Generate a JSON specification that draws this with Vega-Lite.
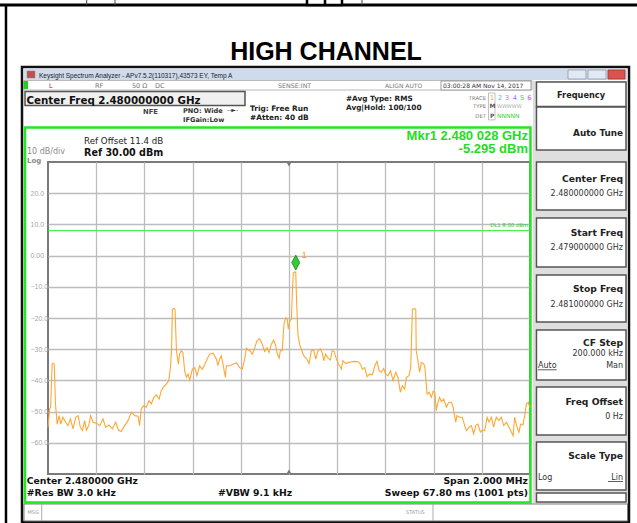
{
  "$schema": "https://vega.github.io/schema/vega-lite/v6.json",
  "width": 482,
  "height": 312,
  "autosize": {"type": "none"},
  "padding": {"left": 48, "top": 162, "right": 107, "bottom": 49},
  "background": "white",
  "datasets": {
    "trace": [
      {"f":-1000,"p":-55},{"f":-993,"p":-49.1},{"f":-989,"p":-48.6},{"f":-983,"p":-34.8},{"f":-979,"p":-34.5},{"f":-974,"p":-34.8},{"f":-969,"p":-47.5},{"f":-962,"p":-54},{"f":-954,"p":-51.3},{"f":-947,"p":-54},{"f":-938,"p":-51.8},{"f":-927,"p":-53.4},{"f":-917,"p":-54.5},{"f":-907,"p":-52.3},{"f":-896,"p":-55.5},{"f":-885,"p":-51.8},{"f":-875,"p":-51.3},{"f":-866,"p":-55},{"f":-857,"p":-56},{"f":-848,"p":-52.9},{"f":-841,"p":-55.9},{"f":-831,"p":-54.5},{"f":-823,"p":-51.3},{"f":-813,"p":-53.4},{"f":-799,"p":-53.7},{"f":-785,"p":-54.5},{"f":-772,"p":-52.3},{"f":-761,"p":-55},{"f":-747,"p":-54.3},{"f":-733,"p":-55.5},{"f":-719,"p":-53.4},{"f":-708,"p":-55.9},{"f":-696,"p":-56.4},{"f":-682,"p":-54.5},{"f":-668,"p":-52.9},{"f":-654,"p":-50.2},{"f":-640,"p":-51.3},{"f":-626,"p":-51.5},{"f":-620,"p":-54.5},{"f":-613,"p":-49.1},{"f":-603,"p":-48.1},{"f":-592,"p":-48.6},{"f":-581,"p":-46.5},{"f":-571,"p":-47.5},{"f":-561,"p":-45.4},{"f":-550,"p":-44.6},{"f":-539,"p":-46},{"f":-530,"p":-43.3},{"f":-520,"p":-42},{"f":-509,"p":-41.2},{"f":-499,"p":-40.1},{"f":-492,"p":-35.9},{"f":-487,"p":-29.5},{"f":-484,"p":-17.2},{"f":-478,"p":-16.9},{"f":-473,"p":-17.2},{"f":-467,"p":-30.5},{"f":-459,"p":-34.8},{"f":-454,"p":-31.6},{"f":-447,"p":-30.5},{"f":-440,"p":-31.1},{"f":-433,"p":-36.9},{"f":-426,"p":-39},{"f":-419,"p":-38},{"f":-412,"p":-39.9},{"f":-401,"p":-36.4},{"f":-391,"p":-35.9},{"f":-382,"p":-38.5},{"f":-371,"p":-35.3},{"f":-360,"p":-36.4},{"f":-350,"p":-35},{"f":-340,"p":-33.2},{"f":-329,"p":-31.6},{"f":-315,"p":-31.3},{"f":-301,"p":-33.2},{"f":-295,"p":-35.3},{"f":-288,"p":-33.2},{"f":-281,"p":-32.1},{"f":-274,"p":-34.8},{"f":-264,"p":-39},{"f":-260,"p":-35.3},{"f":-246,"p":-35.3},{"f":-232,"p":-34.8},{"f":-218,"p":-34.3},{"f":-205,"p":-35.9},{"f":-194,"p":-36.4},{"f":-184,"p":-33.2},{"f":-177,"p":-29.7},{"f":-163,"p":-30.5},{"f":-152,"p":-31.6},{"f":-142,"p":-29.5},{"f":-133,"p":-27.3},{"f":-122,"p":-26.6},{"f":-111,"p":-28.4},{"f":-101,"p":-30.7},{"f":-91,"p":-29.5},{"f":-83,"p":-31.1},{"f":-73,"p":-28.4},{"f":-64,"p":-27.1},{"f":-55,"p":-28.9},{"f":-50,"p":-31.1},{"f":-41,"p":-32.9},{"f":-36,"p":-30.5},{"f":-28,"p":-30.5},{"f":-21,"p":-22},{"f":-14,"p":-19.9},{"f":-7,"p":-20.4},{"f":-3,"p":-23.6},{"f":3,"p":-21},{"f":10,"p":-20.4},{"f":14,"p":-11.4},{"f":18,"p":-5.6},{"f":23,"p":-5.3},{"f":28,"p":-5.295},{"f":31,"p":-13.5},{"f":37,"p":-25.2},{"f":44,"p":-28.4},{"f":51,"p":-30},{"f":61,"p":-32.1},{"f":72,"p":-32.9},{"f":83,"p":-34.6},{"f":93,"p":-30.5},{"f":102,"p":-30.2},{"f":111,"p":-33.2},{"f":120,"p":-30.5},{"f":130,"p":-29.9},{"f":138,"p":-31.1},{"f":144,"p":-33.7},{"f":152,"p":-31.6},{"f":162,"p":-32.9},{"f":172,"p":-33.5},{"f":179,"p":-30.5},{"f":187,"p":-30.7},{"f":197,"p":-33.2},{"f":208,"p":-35.1},{"f":217,"p":-36.4},{"f":224,"p":-33.7},{"f":235,"p":-34.6},{"f":245,"p":-34.3},{"f":259,"p":-34},{"f":273,"p":-33.9},{"f":286,"p":-34},{"f":296,"p":-34.8},{"f":304,"p":-36.4},{"f":314,"p":-35.9},{"f":324,"p":-38.8},{"f":335,"p":-38},{"f":346,"p":-38.2},{"f":356,"p":-35.3},{"f":365,"p":-33.9},{"f":374,"p":-36.9},{"f":383,"p":-37.4},{"f":393,"p":-36.2},{"f":401,"p":-38},{"f":411,"p":-38.5},{"f":421,"p":-36.9},{"f":432,"p":-40.1},{"f":443,"p":-37.4},{"f":452,"p":-39},{"f":462,"p":-43.8},{"f":470,"p":-41.7},{"f":480,"p":-42.8},{"f":487,"p":-39},{"f":498,"p":-38.5},{"f":505,"p":-35.9},{"f":512,"p":-17.2},{"f":522,"p":-17},{"f":526,"p":-17.2},{"f":528,"p":-30.5},{"f":535,"p":-33.7},{"f":542,"p":-37.4},{"f":549,"p":-34.3},{"f":559,"p":-34.6},{"f":564,"p":-35.9},{"f":573,"p":-44.4},{"f":581,"p":-43.8},{"f":591,"p":-45.4},{"f":598,"p":-43.5},{"f":605,"p":-43.8},{"f":611,"p":-49.7},{"f":618,"p":-47},{"f":625,"p":-45.4},{"f":632,"p":-46.8},{"f":642,"p":-46},{"f":653,"p":-48.6},{"f":663,"p":-47},{"f":674,"p":-47},{"f":681,"p":-48.6},{"f":688,"p":-51.8},{"f":692,"p":-53.4},{"f":697,"p":-51.3},{"f":708,"p":-51.8},{"f":719,"p":-51.8},{"f":729,"p":-54.5},{"f":736,"p":-56.1},{"f":747,"p":-55},{"f":757,"p":-54.5},{"f":766,"p":-57.1},{"f":775,"p":-54.5},{"f":784,"p":-54},{"f":794,"p":-56.6},{"f":802,"p":-55.9},{"f":812,"p":-56.1},{"f":822,"p":-51.8},{"f":830,"p":-53.4},{"f":840,"p":-51.8},{"f":849,"p":-55},{"f":860,"p":-51.8},{"f":871,"p":-52.9},{"f":881,"p":-51.8},{"f":891,"p":-54.5},{"f":902,"p":-53.4},{"f":913,"p":-55},{"f":923,"p":-56.6},{"f":930,"p":-57.7},{"f":936,"p":-51.8},{"f":946,"p":-55},{"f":954,"p":-56.6},{"f":961,"p":-54},{"f":971,"p":-54.2},{"f":978,"p":-51.3},{"f":985,"p":-47.5},{"f":993,"p":-47},{"f":998,"p":-48.6},{"f":1000,"p":-48}
    ]
  },
  "config": {
    "view": {"stroke": "#7a7a7a", "strokeWidth": 2},
    "axis": {"gridColor": "#bdbdbd", "gridWidth": 1.3, "labelOverlap": false}
  },
  "layer": [
    {"data":{"values":[{}]},"mark":{"type":"rule","stroke":"#000","strokeWidth":3},"encoding":{"x":{"datum":-1199.2,"type":"quantitative"},"x2":{"datum":1444},"y":{"datum":80.32,"type":"quantitative"}}},
    {"data":{"values":[{}]},"mark":{"type":"rule","stroke":"#444","strokeWidth":1},"encoding":{"x":{"datum":-839.4,"type":"quantitative"},"y":{"datum":81.92,"type":"quantitative"},"y2":{"datum":80.32}}},
    {"data":{"values":[{}]},"mark":{"type":"rule","stroke":"#444","strokeWidth":1},"encoding":{"x":{"datum":-722,"type":"quantitative"},"y":{"datum":81.92,"type":"quantitative"},"y2":{"datum":80.32}}},
    {"data":{"values":[{}]},"mark":{"type":"rule","stroke":"#444","strokeWidth":1},"encoding":{"x":{"datum":302.9,"type":"quantitative"},"y":{"datum":81.92,"type":"quantitative"},"y2":{"datum":80.32}}},
    {"data":{"values":[{}]},"mark":{"type":"rect","fill":"#fff","stroke":"#000","strokeWidth":2.5},"encoding":{"x":{"datum":74.7,"type":"quantitative"},"x2":{"datum":219.9},"y":{"datum":82.5,"type":"quantitative"},"y2":{"datum":80.32}}},
    {"data":{"values":[{}]},"mark":{"type":"rule","stroke":"#000","strokeWidth":2.5},"encoding":{"x":{"datum":149.4,"type":"quantitative"},"y":{"datum":82.5,"type":"quantitative"},"y2":{"datum":80.32}}},
    {"data":{"values":[{}]},"mark":{"type":"rule","stroke":"#000","strokeWidth":2.5},"encoding":{"x":{"datum":-1174.3,"type":"quantitative"},"y":{"datum":80.32,"type":"quantitative"},"y2":{"datum":-85.71}}},
    {"data":{"values":[{}]},"mark":{"type":"text","text":"HIGH CHANNEL","align":"center","baseline":"alphabetic","font":"Liberation Sans","fontSize":25,"fontWeight":"bold","color":"#000"},"encoding":{"x":{"datum":153.5,"type":"quantitative"},"y":{"datum":62.7,"type":"quantitative"}}},

    {"data":{"values":[{}]},"mark":{"type":"rect","fill":null,"stroke":"#111","strokeWidth":2.5},"encoding":{"x":{"datum":-1107.9,"type":"quantitative"},"x2":{"datum":1410.8},"y":{"datum":60.45,"type":"quantitative"},"y2":{"datum":-85.38}}},
    {"data":{"values":[{}]},"mark":{"type":"rect","fill":"#cfdaea"},"encoding":{"x":{"datum":-1101.7,"type":"quantitative"},"x2":{"datum":1404.6},"y":{"datum":59.97,"type":"quantitative"},"y2":{"datum":56.28}}},
    {"data":{"values":[{}]},"mark":{"type":"rect","fill":"#c0504d","stroke":"#888","strokeWidth":0.5},"encoding":{"x":{"datum":-1087.1,"type":"quantitative"},"x2":{"datum":-1053.9},"y":{"datum":59.17,"type":"quantitative"},"y2":{"datum":56.92}}},
    {"data":{"values":[{}]},"mark":{"type":"text","text":"Keysight Spectrum Analyzer - APv7.5.2(110317),43573 EY, Temp A","align":"left","baseline":"alphabetic","font":"Liberation Sans","fontSize":6.5,"color":"#222"},"encoding":{"x":{"datum":-1037.3,"type":"quantitative"},"y":{"datum":57.02,"type":"quantitative"}}},
    {"data":{"values":[{}]},"mark":{"type":"rect","fill":"#e3e9f2","stroke":"#8a9bb5","strokeWidth":0.8},"encoding":{"x":{"datum":1157.7,"type":"quantitative"},"x2":{"datum":1232.3},"y":{"datum":59.49,"type":"quantitative"},"y2":{"datum":56.6}}},
    {"data":{"values":[{}]},"mark":{"type":"rect","fill":"#e3e9f2","stroke":"#8a9bb5","strokeWidth":0.8},"encoding":{"x":{"datum":1240.6,"type":"quantitative"},"x2":{"datum":1315.3},"y":{"datum":59.49,"type":"quantitative"},"y2":{"datum":56.6}}},
    {"data":{"values":[{}]},"mark":{"type":"rect","fill":"#d9534f","stroke":"#a33","strokeWidth":0.8},"encoding":{"x":{"datum":1323.6,"type":"quantitative"},"x2":{"datum":1394.2},"y":{"datum":59.49,"type":"quantitative"},"y2":{"datum":56.6}}},

    {"data":{"values":[{}]},"mark":{"type":"rect","fill":"#fff","stroke":"#aaa","strokeWidth":0.8},"encoding":{"x":{"datum":-1099.6,"type":"quantitative"},"x2":{"datum":1008.3},"y":{"datum":56.12,"type":"quantitative"},"y2":{"datum":53.08}}},
    {"data":{"values":[{}]},"mark":{"type":"rect","fill":"#22cc22"},"encoding":{"x":{"datum":-1101.7,"type":"quantitative"},"x2":{"datum":-1083},"y":{"datum":55.96,"type":"quantitative"},"y2":{"datum":53.4}}},
    {"data":{"values":[{}]},"mark":{"type":"text","text":"L","align":"left","baseline":"alphabetic","font":"DejaVu Sans","fontSize":6.5,"color":"#b22"},"encoding":{"x":{"datum":-995.9,"type":"quantitative"},"y":{"datum":53.72,"type":"quantitative"}}},
    {"data":{"values":[{}]},"mark":{"type":"text","text":"RF","align":"left","baseline":"alphabetic","font":"DejaVu Sans","fontSize":6.5,"color":"#777"},"encoding":{"x":{"datum":-805,"type":"quantitative"},"y":{"datum":53.72,"type":"quantitative"}}},
    {"data":{"values":[{}]},"mark":{"type":"text","text":"50 Ω","align":"left","baseline":"alphabetic","font":"DejaVu Sans","fontSize":6.5,"color":"#777"},"encoding":{"x":{"datum":-651.5,"type":"quantitative"},"y":{"datum":53.72,"type":"quantitative"}}},
    {"data":{"values":[{}]},"mark":{"type":"text","text":"DC","align":"left","baseline":"alphabetic","font":"DejaVu Sans","fontSize":6.5,"color":"#777"},"encoding":{"x":{"datum":-556,"type":"quantitative"},"y":{"datum":53.72,"type":"quantitative"}}},
    {"data":{"values":[{}]},"mark":{"type":"text","text":"SENSE:INT","align":"left","baseline":"alphabetic","font":"DejaVu Sans","fontSize":6.3,"color":"#777"},"encoding":{"x":{"datum":-45.6,"type":"quantitative"},"y":{"datum":53.72,"type":"quantitative"}}},
    {"data":{"values":[{}]},"mark":{"type":"text","text":"ALIGN AUTO","align":"left","baseline":"alphabetic","font":"DejaVu Sans","fontSize":6,"color":"#777"},"encoding":{"x":{"datum":398.4,"type":"quantitative"},"y":{"datum":53.72,"type":"quantitative"}}},
    {"data":{"values":[{}]},"mark":{"type":"rect","fill":"#fff","stroke":"#888","strokeWidth":0.8},"encoding":{"x":{"datum":630.7,"type":"quantitative"},"x2":{"datum":1004.2},"y":{"datum":55.96,"type":"quantitative"},"y2":{"datum":53.08}}},
    {"data":{"values":[{}]},"mark":{"type":"text","text":"03:00:28 AM Nov 14, 2017","align":"left","baseline":"alphabetic","font":"DejaVu Sans","fontSize":6,"color":"#333"},"encoding":{"x":{"datum":639,"type":"quantitative"},"y":{"datum":53.72,"type":"quantitative"}}},

    {"data":{"values":[{}]},"mark":{"type":"rect","fill":"#f0f0f0","stroke":"#555","strokeWidth":1.5},"encoding":{"x":{"datum":-1095.4,"type":"quantitative"},"x2":{"datum":-182.6},"y":{"datum":52.6,"type":"quantitative"},"y2":{"datum":48.11}}},
    {"data":{"values":[{}]},"mark":{"type":"text","text":"Center Freq 2.480000000 GHz","align":"left","baseline":"alphabetic","font":"DejaVu Sans","fontSize":10.3,"fontWeight":"bold","color":"#111"},"encoding":{"x":{"datum":-1089.2,"type":"quantitative"},"y":{"datum":48.75,"type":"quantitative"}}},
    {"data":{"values":[{}]},"mark":{"type":"text","text":"NFE","align":"left","baseline":"alphabetic","font":"DejaVu Sans","fontSize":6.8,"fontWeight":"bold","color":"#444"},"encoding":{"x":{"datum":-605.8,"type":"quantitative"},"y":{"datum":45.39,"type":"quantitative"}}},
    {"data":{"values":[{}]},"mark":{"type":"text","text":"PNO: Wide","align":"left","baseline":"alphabetic","font":"DejaVu Sans","fontSize":6.6,"fontWeight":"bold","color":"#333"},"encoding":{"x":{"datum":-439.8,"type":"quantitative"},"y":{"datum":45.71,"type":"quantitative"}}},
    {"data":{"values":[{}]},"mark":{"type":"text","text":"--►-","align":"left","baseline":"alphabetic","font":"DejaVu Sans","fontSize":6,"color":"#333"},"encoding":{"x":{"datum":-257.2,"type":"quantitative"},"y":{"datum":46.03,"type":"quantitative"}}},
    {"data":{"values":[{}]},"mark":{"type":"text","text":"IFGain:Low","align":"left","baseline":"alphabetic","font":"DejaVu Sans","fontSize":6.6,"fontWeight":"bold","color":"#333"},"encoding":{"x":{"datum":-439.8,"type":"quantitative"},"y":{"datum":42.92,"type":"quantitative"}}},
    {"data":{"values":[{}]},"mark":{"type":"text","text":"Trig: Free Run","align":"left","baseline":"alphabetic","font":"DejaVu Sans","fontSize":7.4,"fontWeight":"bold","color":"#222"},"encoding":{"x":{"datum":-161.8,"type":"quantitative"},"y":{"datum":46.44,"type":"quantitative"}}},
    {"data":{"values":[{}]},"mark":{"type":"text","text":"#Atten: 40 dB","align":"left","baseline":"alphabetic","font":"DejaVu Sans","fontSize":7.4,"fontWeight":"bold","color":"#222"},"encoding":{"x":{"datum":-161.8,"type":"quantitative"},"y":{"datum":43.46,"type":"quantitative"}}},
    {"data":{"values":[{}]},"mark":{"type":"text","text":"#Avg Type: RMS","align":"left","baseline":"alphabetic","font":"DejaVu Sans","fontSize":7.3,"fontWeight":"bold","color":"#222"},"encoding":{"x":{"datum":236.5,"type":"quantitative"},"y":{"datum":49.71,"type":"quantitative"}}},
    {"data":{"values":[{}]},"mark":{"type":"text","text":"Avg|Hold: 100/100","align":"left","baseline":"alphabetic","font":"DejaVu Sans","fontSize":7.3,"fontWeight":"bold","color":"#222"},"encoding":{"x":{"datum":236.5,"type":"quantitative"},"y":{"datum":46.67,"type":"quantitative"}}},
    {"data":{"values":[{}]},"mark":{"type":"text","text":"TRACE","align":"right","baseline":"alphabetic","font":"DejaVu Sans","fontSize":5.3,"color":"#777"},"encoding":{"x":{"datum":817.4,"type":"quantitative"},"y":{"datum":49.87,"type":"quantitative"}}},
    {"data":{"values":[{}]},"mark":{"type":"text","text":"TYPE","align":"right","baseline":"alphabetic","font":"DejaVu Sans","fontSize":5.3,"color":"#777"},"encoding":{"x":{"datum":817.4,"type":"quantitative"},"y":{"datum":47.15,"type":"quantitative"}}},
    {"data":{"values":[{}]},"mark":{"type":"text","text":"DET","align":"right","baseline":"alphabetic","font":"DejaVu Sans","fontSize":5.3,"color":"#777"},"encoding":{"x":{"datum":817.4,"type":"quantitative"},"y":{"datum":44.26,"type":"quantitative"}}},
    {"data":{"values":[{}]},"mark":{"type":"rect","fill":"#fff","stroke":"#999","strokeWidth":0.6},"encoding":{"x":{"datum":827.8,"type":"quantitative"},"x2":{"datum":854.8},"y":{"datum":52.12,"type":"quantitative"},"y2":{"datum":43.5}}},
    {"data":{"values":[{}]},"mark":{"type":"text","text":"1","align":"left","baseline":"alphabetic","font":"DejaVu Sans","fontSize":6.5,"color":"#ff9900"},"encoding":{"x":{"datum":834,"type":"quantitative"},"y":{"datum":49.87,"type":"quantitative"}}},
    {"data":{"values":[{}]},"mark":{"type":"text","text":"2","align":"left","baseline":"alphabetic","font":"DejaVu Sans","fontSize":6.5,"color":"#00c8ff"},"encoding":{"x":{"datum":866,"type":"quantitative"},"y":{"datum":49.87,"type":"quantitative"}}},
    {"data":{"values":[{}]},"mark":{"type":"text","text":"3","align":"left","baseline":"alphabetic","font":"DejaVu Sans","fontSize":6.5,"color":"#ff40ff"},"encoding":{"x":{"datum":896.3,"type":"quantitative"},"y":{"datum":49.87,"type":"quantitative"}}},
    {"data":{"values":[{}]},"mark":{"type":"text","text":"4","align":"left","baseline":"alphabetic","font":"DejaVu Sans","fontSize":6.5,"color":"#8080ff"},"encoding":{"x":{"datum":928.3,"type":"quantitative"},"y":{"datum":49.87,"type":"quantitative"}}},
    {"data":{"values":[{}]},"mark":{"type":"text","text":"5","align":"left","baseline":"alphabetic","font":"DejaVu Sans","fontSize":6.5,"color":"#33cc33"},"encoding":{"x":{"datum":958.5,"type":"quantitative"},"y":{"datum":49.87,"type":"quantitative"}}},
    {"data":{"values":[{}]},"mark":{"type":"text","text":"6","align":"left","baseline":"alphabetic","font":"DejaVu Sans","fontSize":6.5,"color":"#cc44ff"},"encoding":{"x":{"datum":988.8,"type":"quantitative"},"y":{"datum":49.87,"type":"quantitative"}}},
    {"data":{"values":[{}]},"mark":{"type":"text","text":"M","align":"left","baseline":"alphabetic","font":"DejaVu Sans","fontSize":6,"fontWeight":"bold","color":"#555"},"encoding":{"x":{"datum":832,"type":"quantitative"},"y":{"datum":47.15,"type":"quantitative"}}},
    {"data":{"values":[{}]},"mark":{"type":"text","text":"WWWWW","align":"left","baseline":"alphabetic","font":"DejaVu Sans","fontSize":5,"color":"#aaa"},"encoding":{"x":{"datum":863,"type":"quantitative"},"y":{"datum":47.15,"type":"quantitative"}}},
    {"data":{"values":[{}]},"mark":{"type":"text","text":"P","align":"left","baseline":"alphabetic","font":"DejaVu Sans","fontSize":6,"fontWeight":"bold","color":"#555"},"encoding":{"x":{"datum":834,"type":"quantitative"},"y":{"datum":44.26,"type":"quantitative"}}},
    {"data":{"values":[{}]},"mark":{"type":"text","text":"NNNNN","align":"left","baseline":"alphabetic","font":"DejaVu Sans","fontSize":6,"color":"#33cc33"},"encoding":{"x":{"datum":863,"type":"quantitative"},"y":{"datum":44.26,"type":"quantitative"}}},

    {"data":{"values":[{}]},"mark":{"type":"rect","fill":"#dedede"},"encoding":{"x":{"datum":1012.4,"type":"quantitative"},"x2":{"datum":1404.6},"y":{"datum":55.96,"type":"quantitative"},"y2":{"datum":-79.29}}},
    {"data":{"values":[{}]},"mark":{"type":"rect","fill":"#fff","stroke":"#555","strokeWidth":1.5},"encoding":{"x":{"datum":1026.9,"type":"quantitative"},"x2":{"datum":1398.4},"y":{"datum":55.64,"type":"quantitative"},"y2":{"datum":47.79}}},
    {"data":{"values":[{}]},"mark":{"type":"rect","fill":"#fff","stroke":"#555","strokeWidth":1.5},"encoding":{"x":{"datum":1026.9,"type":"quantitative"},"x2":{"datum":1398.4},"y":{"datum":47.63,"type":"quantitative"},"y2":{"datum":33.85}}},
    {"data":{"values":[{}]},"mark":{"type":"rect","fill":"#fff","stroke":"#555","strokeWidth":1.5},"encoding":{"x":{"datum":1026.9,"type":"quantitative"},"x2":{"datum":1398.4},"y":{"datum":30,"type":"quantitative"},"y2":{"datum":14.62}}},
    {"data":{"values":[{}]},"mark":{"type":"rect","fill":"#fff","stroke":"#555","strokeWidth":1.5},"encoding":{"x":{"datum":1026.9,"type":"quantitative"},"x2":{"datum":1398.4},"y":{"datum":12.05,"type":"quantitative"},"y2":{"datum":-3.65}}},
    {"data":{"values":[{}]},"mark":{"type":"rect","fill":"#fff","stroke":"#555","strokeWidth":1.5},"encoding":{"x":{"datum":1026.9,"type":"quantitative"},"x2":{"datum":1398.4},"y":{"datum":-6.22,"type":"quantitative"},"y2":{"datum":-21.28}}},
    {"data":{"values":[{}]},"mark":{"type":"rect","fill":"#fff","stroke":"#555","strokeWidth":1.5},"encoding":{"x":{"datum":1026.9,"type":"quantitative"},"x2":{"datum":1398.4},"y":{"datum":-23.85,"type":"quantitative"},"y2":{"datum":-39.87}}},
    {"data":{"values":[{}]},"mark":{"type":"rect","fill":"#fff","stroke":"#555","strokeWidth":1.5},"encoding":{"x":{"datum":1026.9,"type":"quantitative"},"x2":{"datum":1398.4},"y":{"datum":-42.12,"type":"quantitative"},"y2":{"datum":-57.5}}},
    {"data":{"values":[{}]},"mark":{"type":"rect","fill":"#fff","stroke":"#555","strokeWidth":1.5},"encoding":{"x":{"datum":1026.9,"type":"quantitative"},"x2":{"datum":1398.4},"y":{"datum":-59.74,"type":"quantitative"},"y2":{"datum":-75.13}}},
    {"data":{"values":[{}]},"mark":{"type":"rect","fill":"#fff","stroke":"#555","strokeWidth":1.5},"encoding":{"x":{"datum":1026.9,"type":"quantitative"},"x2":{"datum":1398.4},"y":{"datum":-76.09,"type":"quantitative"},"y2":{"datum":-78.97}}},
    {"data":{"values":[{}]},"mark":{"type":"text","text":"Frequency","align":"center","baseline":"alphabetic","font":"DejaVu Sans","fontSize":8.2,"fontWeight":"bold","color":"#222"},"encoding":{"x":{"datum":1211.6,"type":"quantitative"},"y":{"datum":50.51,"type":"quantitative"}}},
    {"data":{"values":[{}]},"mark":{"type":"text","text":"Auto Tune","align":"right","baseline":"alphabetic","font":"DejaVu Sans","fontSize":8.8,"fontWeight":"bold","color":"#222"},"encoding":{"x":{"datum":1385.9,"type":"quantitative"},"y":{"datum":38.43,"type":"quantitative"}}},
    {"data":{"values":[{}]},"mark":{"type":"text","text":"Center Freq","align":"right","baseline":"alphabetic","font":"DejaVu Sans","fontSize":9.2,"fontWeight":"bold","color":"#222"},"encoding":{"x":{"datum":1385.9,"type":"quantitative"},"y":{"datum":23.59,"type":"quantitative"}}},
    {"data":{"values":[{}]},"mark":{"type":"text","text":"2.480000000 GHz","align":"right","baseline":"alphabetic","font":"DejaVu Sans","fontSize":8,"color":"#333"},"encoding":{"x":{"datum":1385.9,"type":"quantitative"},"y":{"datum":19.1,"type":"quantitative"}}},
    {"data":{"values":[{}]},"mark":{"type":"text","text":"Start Freq","align":"right","baseline":"alphabetic","font":"DejaVu Sans","fontSize":9.2,"fontWeight":"bold","color":"#222"},"encoding":{"x":{"datum":1385.9,"type":"quantitative"},"y":{"datum":6.28,"type":"quantitative"}}},
    {"data":{"values":[{}]},"mark":{"type":"text","text":"2.479000000 GHz","align":"right","baseline":"alphabetic","font":"DejaVu Sans","fontSize":8,"color":"#333"},"encoding":{"x":{"datum":1385.9,"type":"quantitative"},"y":{"datum":1.79,"type":"quantitative"}}},
    {"data":{"values":[{}]},"mark":{"type":"text","text":"Stop Freq","align":"right","baseline":"alphabetic","font":"DejaVu Sans","fontSize":9.2,"fontWeight":"bold","color":"#222"},"encoding":{"x":{"datum":1385.9,"type":"quantitative"},"y":{"datum":-11.76,"type":"quantitative"}}},
    {"data":{"values":[{}]},"mark":{"type":"text","text":"2.481000000 GHz","align":"right","baseline":"alphabetic","font":"DejaVu Sans","fontSize":8,"color":"#333"},"encoding":{"x":{"datum":1385.9,"type":"quantitative"},"y":{"datum":-16.38,"type":"quantitative"}}},
    {"data":{"values":[{}]},"mark":{"type":"text","text":"CF Step","align":"right","baseline":"alphabetic","font":"DejaVu Sans","fontSize":9.2,"fontWeight":"bold","color":"#222"},"encoding":{"x":{"datum":1385.9,"type":"quantitative"},"y":{"datum":-28.97,"type":"quantitative"}}},
    {"data":{"values":[{}]},"mark":{"type":"text","text":"200.000 kHz","align":"right","baseline":"alphabetic","font":"DejaVu Sans","fontSize":8,"color":"#333"},"encoding":{"x":{"datum":1385.9,"type":"quantitative"},"y":{"datum":-32.08,"type":"quantitative"}}},
    {"data":{"values":[{}]},"mark":{"type":"text","text":"Auto","align":"left","baseline":"alphabetic","font":"DejaVu Sans","fontSize":8,"color":"#333"},"encoding":{"x":{"datum":1033.2,"type":"quantitative"},"y":{"datum":-36.12,"type":"quantitative"}}},
    {"data":{"values":[{}]},"mark":{"type":"rule","stroke":"#333","strokeWidth":0.8},"encoding":{"x":{"datum":1033.2,"type":"quantitative"},"x2":{"datum":1110.8},"y":{"datum":-36.6,"type":"quantitative"}}},
    {"data":{"values":[{}]},"mark":{"type":"text","text":"Man","align":"right","baseline":"alphabetic","font":"DejaVu Sans","fontSize":8,"color":"#333"},"encoding":{"x":{"datum":1385.9,"type":"quantitative"},"y":{"datum":-36.12,"type":"quantitative"}}},
    {"data":{"values":[{}]},"mark":{"type":"text","text":"Freq Offset","align":"right","baseline":"alphabetic","font":"DejaVu Sans","fontSize":9.2,"fontWeight":"bold","color":"#222"},"encoding":{"x":{"datum":1385.9,"type":"quantitative"},"y":{"datum":-47.89,"type":"quantitative"}}},
    {"data":{"values":[{}]},"mark":{"type":"text","text":"0 Hz","align":"right","baseline":"alphabetic","font":"DejaVu Sans","fontSize":8,"color":"#333"},"encoding":{"x":{"datum":1385.9,"type":"quantitative"},"y":{"datum":-52.37,"type":"quantitative"}}},
    {"data":{"values":[{}]},"mark":{"type":"text","text":"Scale Type","align":"right","baseline":"alphabetic","font":"DejaVu Sans","fontSize":9.2,"fontWeight":"bold","color":"#222"},"encoding":{"x":{"datum":1385.9,"type":"quantitative"},"y":{"datum":-65.29,"type":"quantitative"}}},
    {"data":{"values":[{}]},"mark":{"type":"text","text":"Log","align":"left","baseline":"alphabetic","font":"DejaVu Sans","fontSize":8,"color":"#333"},"encoding":{"x":{"datum":1033.2,"type":"quantitative"},"y":{"datum":-71.92,"type":"quantitative"}}},
    {"data":{"values":[{}]},"mark":{"type":"text","text":"Lin","align":"right","baseline":"alphabetic","font":"DejaVu Sans","fontSize":8,"color":"#333"},"encoding":{"x":{"datum":1385.9,"type":"quantitative"},"y":{"datum":-71.92,"type":"quantitative"}}},
    {"data":{"values":[{}]},"mark":{"type":"rule","stroke":"#333","strokeWidth":0.8},"encoding":{"x":{"datum":1323.6,"type":"quantitative"},"x2":{"datum":1385.9},"y":{"datum":-72.4,"type":"quantitative"}}},

    {"data":{"values":[{}]},"mark":{"type":"rect","fill":"#fff","stroke":"#777","strokeWidth":1},"encoding":{"x":{"datum":-1099.6,"type":"quantitative"},"x2":{"datum":1404.6},"y":{"datum":-79.61,"type":"quantitative"},"y2":{"datum":-85.06}}},
    {"data":{"values":[{}]},"mark":{"type":"rule","stroke":"#999","strokeWidth":0.8},"encoding":{"x":{"datum":-1026.1,"type":"quantitative"},"y":{"datum":-79.61,"type":"quantitative"},"y2":{"datum":-85.06}}},
    {"data":{"values":[{}]},"mark":{"type":"rule","stroke":"#999","strokeWidth":0.8},"encoding":{"x":{"datum":597.5,"type":"quantitative"},"y":{"datum":-79.61,"type":"quantitative"},"y2":{"datum":-85.06}}},
    {"data":{"values":[{}]},"mark":{"type":"text","text":"MSG","align":"left","baseline":"alphabetic","font":"DejaVu Sans","fontSize":5,"color":"#999"},"encoding":{"x":{"datum":-1085.1,"type":"quantitative"},"y":{"datum":-82.98,"type":"quantitative"}}},
    {"data":{"values":[{}]},"mark":{"type":"text","text":"STATUS","align":"left","baseline":"alphabetic","font":"DejaVu Sans","fontSize":5,"color":"#999"},"encoding":{"x":{"datum":485.5,"type":"quantitative"},"y":{"datum":-82.98,"type":"quantitative"}}},

    {"data":{"values":[{}]},"mark":{"type":"rect","fill":null,"stroke":"#22e822","strokeWidth":2.5},"encoding":{"x":{"datum":-1095.4,"type":"quantitative"},"x2":{"datum":1002},"y":{"datum":41.06,"type":"quantitative"},"y2":{"datum":-79.13}}},
    {"data":{"values":[{}]},"mark":{"type":"text","text":"Ref Offset 11.4 dB","align":"left","baseline":"alphabetic","font":"DejaVu Sans","fontSize":8.7,"color":"#222"},"encoding":{"x":{"datum":-850.6,"type":"quantitative"},"y":{"datum":35.77,"type":"quantitative"}}},
    {"data":{"values":[{}]},"mark":{"type":"text","text":"Ref 30.00 dBm","align":"left","baseline":"alphabetic","font":"DejaVu Sans","fontSize":9.6,"fontWeight":"bold","color":"#111"},"encoding":{"x":{"datum":-850.6,"type":"quantitative"},"y":{"datum":32.02,"type":"quantitative"}}},
    {"data":{"values":[{}]},"mark":{"type":"text","text":"10 dB/div","align":"left","baseline":"alphabetic","font":"DejaVu Sans","fontSize":8,"color":"#8a8a8a"},"encoding":{"x":{"datum":-1087.1,"type":"quantitative"},"y":{"datum":32.5,"type":"quantitative"}}},
    {"data":{"values":[{}]},"mark":{"type":"text","text":"Log","align":"left","baseline":"alphabetic","font":"DejaVu Sans","fontSize":7,"fontWeight":"bold","color":"#8a8a8a"},"encoding":{"x":{"datum":-1087.1,"type":"quantitative"},"y":{"datum":29.75,"type":"quantitative"}}},
    {"data":{"values":[{}]},"mark":{"type":"text","text":"Mkr1 2.480 028 GHz","align":"right","baseline":"alphabetic","font":"Liberation Sans","fontSize":13,"fontWeight":"bold","color":"#22dd22"},"encoding":{"x":{"datum":991.7,"type":"quantitative"},"y":{"datum":37.2,"type":"quantitative"}}},
    {"data":{"values":[{}]},"mark":{"type":"text","text":"-5.295 dBm","align":"right","baseline":"alphabetic","font":"Liberation Sans","fontSize":13,"fontWeight":"bold","color":"#22dd22"},"encoding":{"x":{"datum":991.7,"type":"quantitative"},"y":{"datum":32.88,"type":"quantitative"}}},

    {
      "data": {"name": "trace"},
      "mark": {"type": "line", "color": "#ffa733", "strokeWidth": 1.1},
      "encoding": {
        "x": {"field": "f", "type": "quantitative", "scale": {"domain": [-1000, 1000], "nice": false, "zero": false},
              "axis": {"title": null, "values": [-800,-600,-400,-200,0,200,400,600,800], "tickCount": 30, "labels": false, "ticks": false, "domain": false, "grid": true}},
        "y": {"field": "p", "type": "quantitative", "scale": {"domain": [-70, 30], "nice": false, "zero": false},
              "axis": {"title": null, "values": [-60,-50,-40,-30,-20,-10,0,10,20], "tickCount": 30, "labelExpr": "datum.value == 0 ? '0.00' : format(datum.value, '.1f')", "labelAlign": "left", "labelPadding": 18, "labelFont": "Liberation Sans", "labelFontSize": 7, "labelColor": "#a8a8a8", "ticks": false, "domain": false, "grid": true}}
      }
    },
    {"data":{"values":[{}]},"mark":{"type":"rule","stroke":"#33ee33","strokeWidth":1},"encoding":{"x":{"datum":-1000,"type":"quantitative"},"x2":{"datum":1000},"y":{"datum":8,"type":"quantitative"}}},
    {"data":{"values":[{}]},"mark":{"type":"text","text":"DL1 8.00 dBm","align":"right","baseline":"alphabetic","font":"DejaVu Sans","fontSize":5.3,"color":"#33cc33"},"encoding":{"x":{"datum":991.7,"type":"quantitative"},"y":{"datum":9.17,"type":"quantitative"}}},
    {"data":{"values":[{}]},"mark":{"type":"point","shape":"triangle-down","size":22,"filled":true,"fill":"#777","stroke":null,"opacity":1},"encoding":{"x":{"datum":0,"type":"quantitative"},"y":{"datum":29.2,"type":"quantitative"}}},
    {"data":{"values":[{}]},"mark":{"type":"point","shape":"triangle-up","size":22,"filled":true,"fill":"#777","stroke":null,"opacity":1},"encoding":{"x":{"datum":0,"type":"quantitative"},"y":{"datum":-69.2,"type":"quantitative"}}},
    {"data":{"values":[{}]},"mark":{"type":"point","shape":"M0,-0.27L-0.53,-1.27L0,-2.27L0.53,-1.27Z","size":225,"filled":true,"fill":"#33cc33","stroke":"#1f7a1f","strokeWidth":0.8,"opacity":1},"encoding":{"x":{"datum":28,"type":"quantitative"},"y":{"datum":-5.295,"type":"quantitative"}}},
    {"data":{"values":[{}]},"mark":{"type":"text","text":"1","align":"left","baseline":"alphabetic","dx":6,"dy":-14,"font":"Liberation Sans","fontSize":9,"color":"#ff9900"},"encoding":{"x":{"datum":28,"type":"quantitative"},"y":{"datum":-5.295,"type":"quantitative"}}},

    {"data":{"values":[{}]},"mark":{"type":"text","text":"Center 2.480000 GHz","align":"left","baseline":"alphabetic","font":"DejaVu Sans","fontSize":9.3,"fontWeight":"bold","color":"#111"},"encoding":{"x":{"datum":-1088.4,"type":"quantitative"},"y":{"datum":-73.3,"type":"quantitative"}}},
    {"data":{"values":[{}]},"mark":{"type":"text","text":"Span 2.000 MHz","align":"right","baseline":"alphabetic","font":"DejaVu Sans","fontSize":9.3,"fontWeight":"bold","color":"#111"},"encoding":{"x":{"datum":991.7,"type":"quantitative"},"y":{"datum":-73.3,"type":"quantitative"}}},
    {"data":{"values":[{}]},"mark":{"type":"text","text":"#Res BW 3.0 kHz","align":"left","baseline":"alphabetic","font":"DejaVu Sans","fontSize":9.3,"fontWeight":"bold","color":"#111"},"encoding":{"x":{"datum":-1088.4,"type":"quantitative"},"y":{"datum":-77.05,"type":"quantitative"}}},
    {"data":{"values":[{}]},"mark":{"type":"text","text":"#VBW 9.1 kHz","align":"left","baseline":"alphabetic","font":"DejaVu Sans","fontSize":9.3,"fontWeight":"bold","color":"#111"},"encoding":{"x":{"datum":-294.6,"type":"quantitative"},"y":{"datum":-77.05,"type":"quantitative"}}},
    {"data":{"values":[{}]},"mark":{"type":"text","text":"Sweep  67.80 ms (1001 pts)","align":"right","baseline":"alphabetic","font":"DejaVu Sans","fontSize":9.3,"fontWeight":"bold","color":"#111"},"encoding":{"x":{"datum":991.7,"type":"quantitative"},"y":{"datum":-77.05,"type":"quantitative"}}}
  ]
}
